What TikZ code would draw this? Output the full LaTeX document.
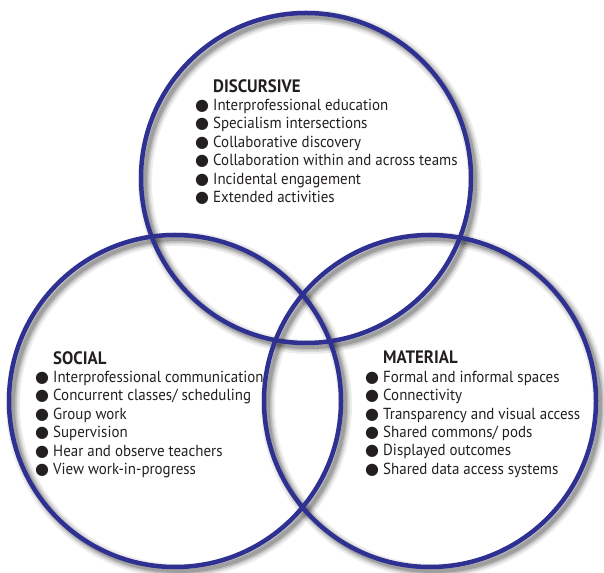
\documentclass[tikz,border=0pt]{standalone}
\usepackage{fontspec}
\setmainfont{PT Sans}[FakeStretch=0.935]
\newfontfamily\dotfont{DejaVu Sans}
\definecolor{ringblue}{RGB}{46,49,146}
\definecolor{ink}{RGB}{35,31,32}
\newcommand{\bul}{\llap{{\dotfont ●}\hspace{4pt}}}
\newcommand{\head}[1]{{\fontsize{18}{18.4}\selectfont\bfseries #1}}

\begin{document}
\begin{tikzpicture}[x=1pt, y=1pt,
  ring/.style={draw=ringblue, line width=4.5pt},
  ringshadow/.style={draw=black, opacity=#1},
  block/.style={inner sep=0pt, anchor=north west, align=left, text=ink,
    font=\fontsize{16}{18.4}\selectfont}]
  \useasboundingbox (0,0) rectangle (604,572);
  \foreach \c/\r in {{306,394}/165, {175,171}/166, {430,171}/166} {
    \foreach \w/\o in {14/0.07, 10/0.09, 7/0.12, 4/0.16}
      \draw[ringshadow=\o, line width=\w pt] ([shift={(4,-4)}]\c) circle (\r);
  }
  \draw[ring] (306,394) circle (165);
  \draw[ring] (175,171) circle (166);
  \draw[ring] (430,171) circle (166);

  \node[block] (discursive) at (213,493) {\head{DISCURSIVE}\\
    \bul Interprofessional education\\
    \bul Specialism intersections\\
    \bul Collaborative discovery\\
    \bul Collaboration within and across teams\\
    \bul Incidental engagement\\
    \bul Extended activities};
  \node[block] (social) at (53,221) {\head{SOCIAL}\\
    \bul Interprofessional communication\\
    \bul Concurrent classes/ scheduling\\
    \bul Group work\\
    \bul Supervision\\
    \bul Hear and observe teachers\\
    \bul View work-in-progress};
  \node[block] (material) at (383,221) {\head{MATERIAL}\\
    \bul Formal and informal spaces\\
    \bul Connectivity\\
    \bul Transparency and visual access\\
    \bul Shared commons/ pods\\
    \bul Displayed outcomes\\
    \bul Shared data access systems};
\end{tikzpicture}
\end{document}
